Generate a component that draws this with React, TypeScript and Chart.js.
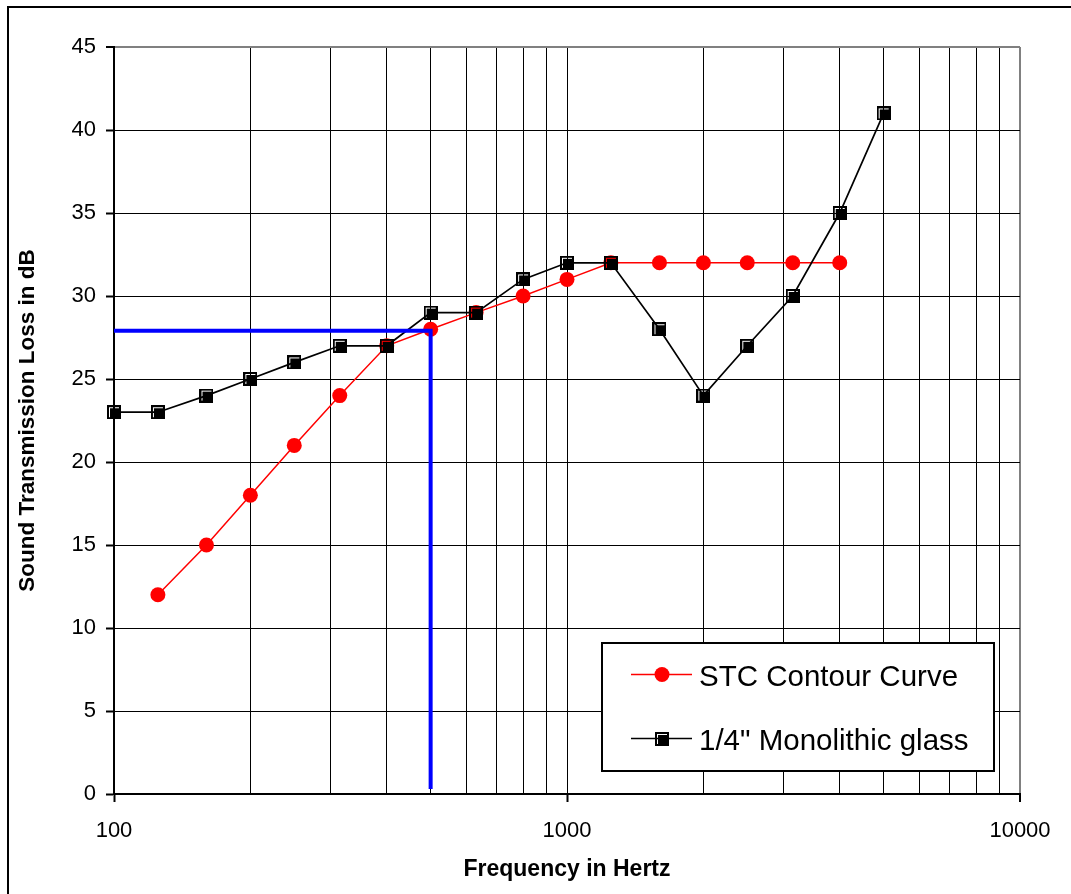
import React, { useEffect, useRef } from 'react';
import { Chart, registerables } from 'chart.js';

Chart.register(...registerables);

// ---- data ----
const STC_FREQ = [125, 160, 200, 250, 315, 400, 500, 630, 800, 1000, 1250, 1600, 2000, 2500, 3150, 4000];
const STC_VALUES = [12, 15, 18, 21, 24, 27, 28, 29, 30, 31, 32, 32, 32, 32, 32, 32];
const GLASS_FREQ = [100, 125, 160, 200, 250, 315, 400, 500, 630, 800, 1000, 1250, 1600, 2000, 2500, 3150, 4000, 5000];
const GLASS_VALUES = [23, 23, 24, 25, 26, 27, 27, 29, 29, 31, 32, 32, 28, 24, 27, 30, 35, 41];
const STC_MARK_X = [100, 500, 500];
const STC_MARK_Y = [27.9, 27.9, 0.3];
const X_GRID_TICKS = [100, 200, 300, 400, 500, 600, 700, 800, 900, 1000, 2000, 3000, 4000, 5000, 6000, 7000, 8000, 9000, 10000];
const X_LABEL_TICKS = [100, 1000, 10000];
const Y_TICKS = [0, 5, 10, 15, 20, 25, 30, 35, 40, 45];
const LEGEND_LABELS = ['STC Contour Curve', '1/4" Monolithic glass'];
const X_TITLE = 'Frequency in Hertz';
const Y_TITLE = 'Sound Transmission Loss in dB';

const FONT = '"Liberation Sans", Arial, sans-serif';

function makeSquare(): HTMLCanvasElement {
  const c = document.createElement('canvas');
  c.width = 14;
  c.height = 14;
  const g = c.getContext('2d')!;
  g.fillStyle = '#000';
  g.fillRect(0, 0, 14, 14);
  g.clearRect(2, 2, 10, 10);
  g.fillRect(3, 3, 9, 9);
  return c;
}

export default function App() {
  const ref = useRef<HTMLCanvasElement | null>(null);

  useEffect(() => {
    const canvas = ref.current;
    if (!canvas) return;
    const square = makeSquare();

    const legendPlugin = {
      id: 'customLegend',
      afterDraw(chart: any) {
        const { ctx, chartArea } = chart;
        const w = 392;
        const h = 128;
        const x0 = chartArea.right - 26 - w;
        const y0 = chartArea.bottom - 23 - h;
        ctx.save();
        ctx.fillStyle = '#fff';
        ctx.fillRect(x0, y0, w, h);
        ctx.lineWidth = 2;
        ctx.strokeStyle = '#000';
        ctx.strokeRect(x0, y0, w, h);
        const r1 = y0 + 31.5;
        const r2 = y0 + 95.5;
        ctx.lineWidth = 1.5;
        ctx.strokeStyle = '#ff0000';
        ctx.beginPath();
        ctx.moveTo(x0 + 29, r1);
        ctx.lineTo(x0 + 90, r1);
        ctx.stroke();
        ctx.fillStyle = '#ff0000';
        ctx.beginPath();
        ctx.arc(x0 + 60, r1, 7.5, 0, Math.PI * 2);
        ctx.fill();
        ctx.strokeStyle = '#000';
        ctx.beginPath();
        ctx.moveTo(x0 + 29, r2);
        ctx.lineTo(x0 + 90, r2);
        ctx.stroke();
        ctx.drawImage(square, Math.round(x0 + 60 - 7), Math.round(r2 - 7));
        ctx.fillStyle = '#000';
        ctx.font = '29.5px ' + FONT;
        ctx.textAlign = 'left';
        ctx.textBaseline = 'middle';
        ctx.fillText(LEGEND_LABELS[0], x0 + 97, y0 + 35);
        ctx.fillText(LEGEND_LABELS[1], x0 + 97, y0 + 99);
        ctx.restore();
      },
    };

    const chart = new Chart(canvas, {
      type: 'line',
      data: {
        datasets: [
          {
            label: 'STC mark',
            data: STC_MARK_X.map((x, i) => ({ x, y: STC_MARK_Y[i] })),
            borderColor: '#0000ff',
            borderWidth: 4,
            pointRadius: 0,
            order: 0,
          },
          {
            label: LEGEND_LABELS[1],
            data: GLASS_FREQ.map((x, i) => ({ x, y: GLASS_VALUES[i] })),
            borderColor: '#000',
            borderWidth: 1.7,
            pointStyle: square as any,
            pointRadius: 7,
            clip: false,
            order: 1,
          },
          {
            label: LEGEND_LABELS[0],
            data: STC_FREQ.map((x, i) => ({ x, y: STC_VALUES[i] })),
            borderColor: '#ff0000',
            backgroundColor: '#ff0000',
            borderWidth: 1.5,
            pointStyle: 'circle',
            pointRadius: 7.5,
            pointBorderWidth: 0,
            clip: false,
            order: 2,
          },
        ],
      },
      options: {
        responsive: false,
        animation: false,
        events: [],
        layout: { padding: { top: 47, right: 51, left: 0, bottom: 0 } },
        plugins: {
          legend: { display: false },
          tooltip: { enabled: false },
        },
        scales: {
          x: {
            type: 'logarithmic',
            min: 100,
            max: 10000,
            afterBuildTicks(scale: any) {
              scale.ticks = X_GRID_TICKS.map((v) => ({ value: v, major: X_LABEL_TICKS.includes(v) }));
            },
            afterFit(scale: any) {
              scale.height = 100;
            },
            ticks: {
              autoSkip: false,
              maxRotation: 0,
              padding: 16,
              color: '#000',
              font: { size: 22, family: FONT },
              callback: (v: any) => (X_LABEL_TICKS.includes(Number(v)) ? String(v) : ''),
            },
            grid: {
              color: (c: any) => (c.tick && c.tick.value === 10000 ? '#808080' : '#000'),
              lineWidth: (c: any) => (c.tick && c.tick.value === 10000 ? 2 : 1),
              tickColor: (c: any) => (c.tick && X_LABEL_TICKS.includes(c.tick.value) ? '#000' : 'rgba(0,0,0,0)'),
              tickWidth: 2,
              tickLength: 8,
            },
            border: { display: true, color: '#000', width: 2 },
            title: {
              display: true,
              text: X_TITLE,
              color: '#000',
              font: { size: 23, weight: 'bold', family: FONT },
              padding: { top: 0, bottom: 11 },
            },
          },
          y: {
            type: 'linear',
            min: 0,
            max: 45,
            afterBuildTicks(scale: any) {
              scale.ticks = Y_TICKS.map((v) => ({ value: v }));
            },
            afterFit(scale: any) {
              scale.width = 114;
            },
            ticks: {
              padding: 10,
              color: '#000',
              font: { size: 22, family: FONT },
            },
            grid: {
              color: (c: any) => (c.tick && c.tick.value === 45 ? '#808080' : '#000'),
              lineWidth: (c: any) => (c.tick && c.tick.value === 45 ? 2 : 1),
              tickColor: '#000',
              tickWidth: 2,
              tickLength: 8,
            },
            border: { display: true, color: '#000', width: 2 },
            title: {
              display: true,
              text: Y_TITLE,
              color: '#000',
              font: { size: 22.5, weight: 'bold', family: FONT },
              padding: { top: 14, bottom: 0 },
            },
          },
        },
      },
      plugins: [legendPlugin],
    } as any);

    return () => chart.destroy();
  }, []);

  return (
    <div style={{ position: 'absolute', left: 0, top: 0, width: 1071, height: 894, overflow: 'hidden', background: '#fff' }}>
      <div
        style={{
          position: 'absolute',
          left: 7,
          top: 6,
          width: 1200,
          height: 1000,
          borderLeft: '2px solid #000',
          borderTop: '2px solid #000',
        }}
      />
      <canvas ref={ref} width={1071} height={894} style={{ position: 'absolute', left: 0, top: 0 }} />
    </div>
  );
}
